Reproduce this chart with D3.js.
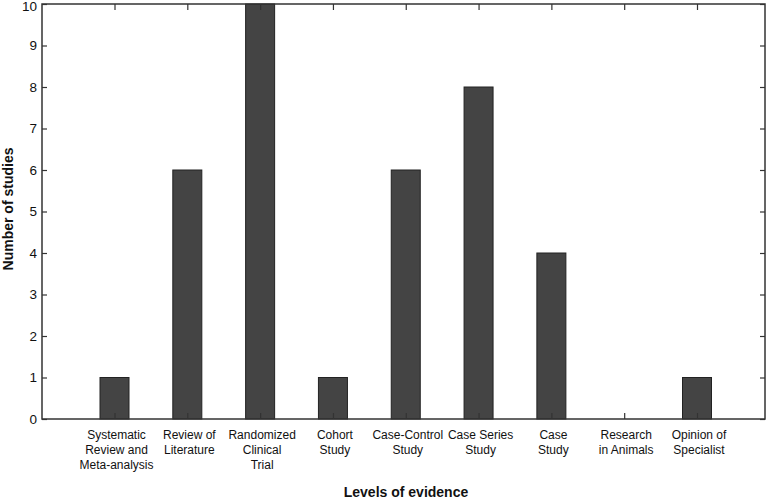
<!DOCTYPE html>
<html><head><meta charset="utf-8">
<script src="https://cdn.jsdelivr.net/npm/d3@7"></script>
<style>body{margin:0;background:#fff}svg{display:block}text{font-family:"Liberation Sans",Arial,Helvetica,sans-serif}</style>
</head><body><svg id="c" width="771" height="499"></svg>
<script>
const categories = [
  ["Systematic","Review and","Meta-analysis"],
  ["Review of","Literature"],
  ["Randomized","Clinical","Trial"],
  ["Cohort","Study"],
  ["Case-Control","Study"],
  ["Case Series","Study"],
  ["Case","Study"],
  ["Research","in Animals"],
  ["Opinion of","Specialist"]
];
const values = [1, 6, 10, 1, 6, 8, 4, 0, 1];
const yTicks = [0,1,2,3,4,5,6,7,8,9,10];

const svg = d3.select("#c");
const L = 42, R = 765, T = 4, B = 419;
const idx = categories.map((d,i)=>i);
const x = d3.scaleLinear().domain([0, 8]).range([114.5, 697]);
const y = d3.scaleLinear().domain([0, 10]).range([B, T]);
const bw = 29;
const axisColor = "#333";

// bars
svg.append("g").selectAll("rect").data(values).join("rect")
  .attr("x", (d,i)=>x(i)-bw/2).attr("width", bw)
  .attr("y", d=>y(d)).attr("height", d=>Math.max(0, B - y(d)))
  .attr("fill", "#444").attr("stroke", "#222").attr("stroke-width", 1);

// frame
svg.append("rect").attr("x", L).attr("y", T).attr("width", R-L).attr("height", B-T)
  .attr("fill","none").attr("stroke", axisColor).attr("stroke-width", 1.5);

// left axis
const yAxis = d3.axisLeft(y).tickValues(yTicks).tickSize(-5).tickPadding(5).tickFormat(d3.format("d"));
const gy = svg.append("g").attr("transform", `translate(${L},0)`).call(yAxis);
gy.select(".domain").remove();
gy.selectAll("line").attr("stroke", axisColor).attr("stroke-width", 1.2);
gy.selectAll("text").attr("font-size", 13.5).attr("fill", "#111")
  .attr("dy", d => d === 10 ? "0.5em" : "0.32em");

// right ticks
const gr = svg.append("g").attr("transform", `translate(${R},0)`).call(d3.axisRight(y).tickValues(yTicks).tickSize(-5).tickFormat(""));
gr.select(".domain").remove();
gr.selectAll("line").attr("stroke", axisColor).attr("stroke-width", 1.2);

// bottom ticks
const gb = svg.append("g").attr("transform", `translate(0,${B})`).call(d3.axisBottom(x).tickValues(idx).tickSize(-6).tickFormat(""));
gb.select(".domain").remove();
gb.selectAll("line").attr("stroke", axisColor).attr("stroke-width", 1.2);

// top ticks
const gt = svg.append("g").attr("transform", `translate(0,${T})`).call(d3.axisTop(x).tickValues(idx).tickSize(-6).tickFormat(""));
gt.select(".domain").remove();
gt.selectAll("line").attr("stroke", axisColor).attr("stroke-width", 1.2);

// category labels
const lab = svg.append("g").selectAll("text").data(categories).join("text")
  .attr("text-anchor","middle").attr("font-size", 12).attr("fill","#111")
  .attr("transform", (d,i)=>`translate(${x(i)+2},${439})`);
lab.selectAll("tspan").data(d=>d).join("tspan")
  .attr("x", 0).attr("dy", (d,j)=> j===0 ? 0 : 15).text(d=>d);

// axis titles
svg.append("text").attr("x", 406).attr("y", 497).attr("text-anchor","middle")
  .attr("font-size", 14).attr("font-weight","bold").attr("fill","#111").text("Levels of evidence");
svg.append("text").attr("transform","translate(13,209) rotate(-90)").attr("text-anchor","middle")
  .attr("font-size", 14).attr("font-weight","bold").attr("fill","#111").text("Number of studies");
</script></body></html>
